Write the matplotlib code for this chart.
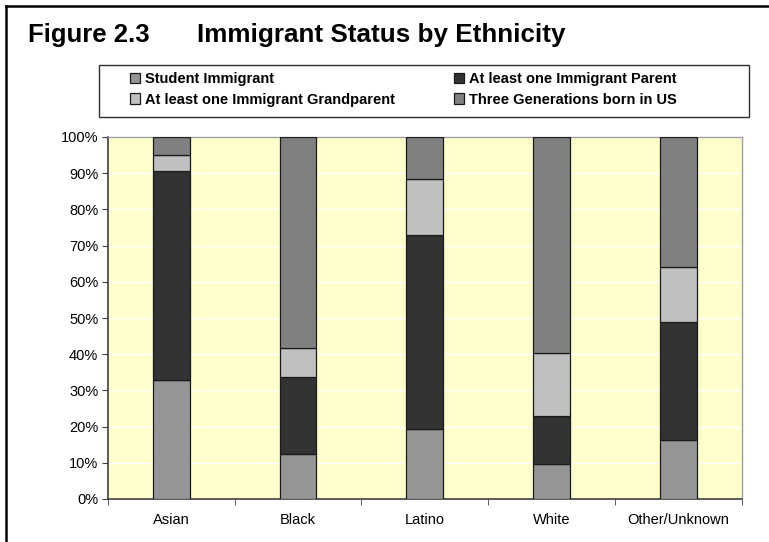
import matplotlib.pyplot as plt
from matplotlib.lines import Line2D
from matplotlib.patches import Rectangle
from matplotlib.ticker import FixedLocator, PercentFormatter
import numpy as np

plt.rcParams['font.family'] = ['Liberation Sans', 'DejaVu Sans']

groups = ['Asian', 'Black', 'Latino', 'White', 'Other/Unknown']
student = [32.9, 12.3, 19.2, 9.7, 16.3]
parent = [57.7, 21.4, 53.7, 13.1, 32.6]
grandparent = [4.4, 7.9, 15.5, 17.4, 15.3]
three_gen = [5.0, 58.4, 11.6, 59.8, 35.8]

series = [
    ('Student Immigrant', student, '#969696'),
    ('At least one Immigrant Parent', parent, '#333333'),
    ('At least one Immigrant Grandparent', grandparent, '#c0c0c0'),
    ('Three Generations born in US', three_gen, '#808080'),
]

fig = plt.figure(figsize=(7.69, 5.42), dpi=100)
ax = fig.add_axes([108 / 769, 1 - 499 / 542, 633.5 / 769, 362 / 542])
ax.set_facecolor('#ffffcc')

x = np.arange(len(groups))
bottom = np.zeros(len(groups))
bars = []
for name, vals, col in series:
    b = ax.bar(x, vals, 0.29, bottom=bottom, color=col, edgecolor='#1a1a1a',
               linewidth=0.9, label=name, zorder=3)
    bars.append(b)
    bottom += np.array(vals)

ax.set_xlim(-0.5, len(groups) - 0.5)
ax.set_ylim(0, 100)
ax.set_yticks(np.arange(0, 101, 10))
ax.yaxis.set_major_formatter(PercentFormatter(decimals=0))
ax.grid(axis='y', color='white', linewidth=1, zorder=1)
ax.set_axisbelow(True)

ax.set_xticks(x)
ax.set_xticklabels(groups, fontsize=10.5)
ax.tick_params(axis='x', which='major', length=0, pad=10)
ax.xaxis.set_minor_locator(FixedLocator(np.arange(len(groups) + 1) - 0.5))
ax.tick_params(axis='x', which='minor', length=4, direction='out', color='#404040')
ax.tick_params(axis='y', length=4, direction='out', color='#404040', labelsize=10.5, pad=3)

for s in ['left', 'bottom']:
    ax.spines[s].set_color('#404040')
    ax.spines[s].set_linewidth(1.2)
for s in ['top', 'right']:
    ax.spines[s].set_color('#a0a0a0')
    ax.spines[s].set_linewidth(1.0)

# legend: two columns inside one box
fig.add_artist(Rectangle((99 / 769, 1 - 117 / 542), 650 / 769, 52 / 542,
                         transform=fig.transFigure, fill=False,
                         edgecolor='#303030', linewidth=1.0))
leg_kw = dict(frameon=False, handlelength=0.7, handleheight=0.7, handletextpad=0.3,
              labelspacing=0.45, borderpad=0, borderaxespad=0, loc='upper left',
              prop={'weight': 'bold', 'size': 10.5})
leg1 = fig.legend([bars[0], bars[2]], [series[0][0], series[2][0]],
                  bbox_to_anchor=(130 / 769, 1 - 72 / 542), **leg_kw)
leg2 = fig.legend([bars[1], bars[3]], [series[1][0], series[3][0]],
                  bbox_to_anchor=(454 / 769, 1 - 72 / 542), **leg_kw)

fig.text(28 / 769, 1 - 35 / 542, 'Figure 2.3', fontsize=18.5, fontweight='bold', va='center')
fig.text(197 / 769, 1 - 35 / 542, 'Immigrant Status by Ethnicity', fontsize=18.7,
         fontweight='bold', va='center')

# outer frame (top and left only)
fig.add_artist(Line2D([6 / 769, 1], [1 - 6 / 542, 1 - 6 / 542], transform=fig.transFigure,
                      color='black', linewidth=1.8))
fig.add_artist(Line2D([6 / 769, 6 / 769], [0, 1 - 6 / 542], transform=fig.transFigure,
                      color='black', linewidth=1.8))

fig.savefig('out.png', dpi=100)
